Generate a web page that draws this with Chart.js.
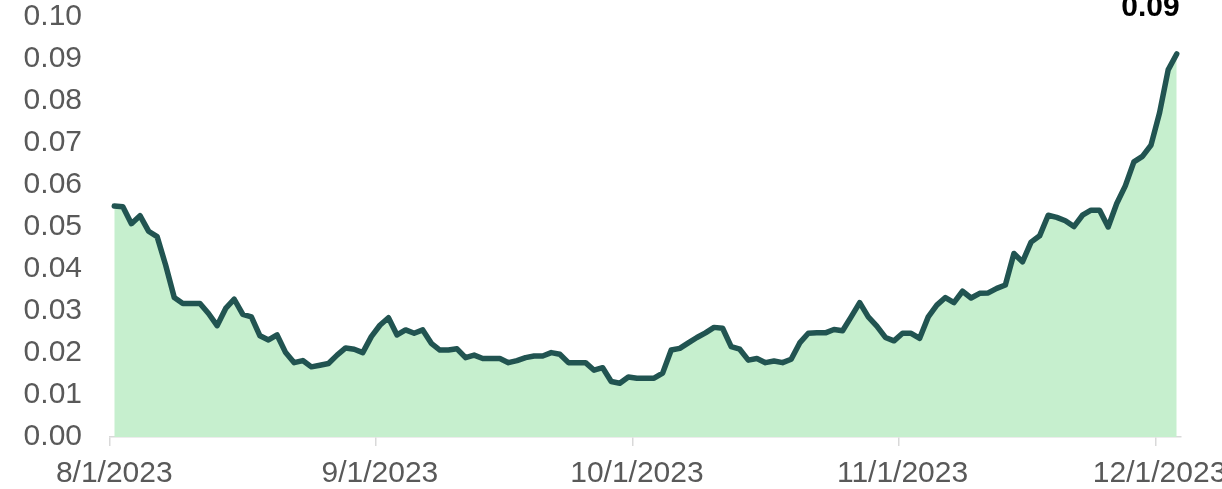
<!DOCTYPE html>
<html>
<head>
<meta charset="utf-8">
<script src="https://cdn.jsdelivr.net/npm/chart.js@4"></script>
<style>
  html, body { margin: 0; padding: 0; background: #fff; }
  #wrap { width: 1222px; height: 489px; }
</style>
</head>
<body>
<div id="wrap"><canvas id="myAreaChart" width="1222" height="489"></canvas></div>
<script>
// daily categories, 8/1/2023 .. 12/3/2023
const startDate = new Date(2023, 7, 1);
const dayCount = 125;
const dates = [];
for (let i = 0; i < dayCount; i++) {
  const d = new Date(startDate.getFullYear(), startDate.getMonth(), startDate.getDate() + i);
  dates.push(d.getMonth() + 1 + "/" + d.getDate() + "/" + d.getFullYear());
}

const values = [
  0.0550, 0.0548, 0.0508, 0.0527, 0.0490, 0.0477, 0.0409, 0.0332, 0.0318, 0.0318,
  0.0318, 0.0294, 0.0265, 0.0306, 0.0328, 0.0292, 0.0286, 0.0241, 0.0231, 0.0243,
  0.0201, 0.0177, 0.0182, 0.0167, 0.0171, 0.0175, 0.0195, 0.0212, 0.0209, 0.0201,
  0.0239, 0.0266, 0.0284, 0.0243, 0.0255, 0.0247, 0.0255, 0.0223, 0.0207, 0.0207,
  0.0210, 0.0189, 0.0195, 0.0187, 0.0187, 0.0187, 0.0177, 0.0182, 0.0189, 0.0193,
  0.0193, 0.0201, 0.0197, 0.0177, 0.0177, 0.0177, 0.0159, 0.0165, 0.0132, 0.0128,
  0.0143, 0.0140, 0.0140, 0.0140, 0.0152, 0.0207, 0.0211, 0.0224, 0.0237, 0.0248,
  0.0261, 0.0259, 0.0215, 0.0209, 0.0183, 0.0187, 0.0177, 0.0181, 0.0177, 0.0185,
  0.0224, 0.0247, 0.0248, 0.0248, 0.0256, 0.0253, 0.0286, 0.0320, 0.0286, 0.0264,
  0.0237, 0.0229, 0.0247, 0.0247, 0.0235, 0.0286, 0.0314, 0.0332, 0.0320, 0.0347,
  0.0331, 0.0342, 0.0343, 0.0354, 0.0362, 0.0437, 0.0417, 0.0464, 0.0479, 0.0528,
  0.0523, 0.0515, 0.0501, 0.0528, 0.0540, 0.0540, 0.0500, 0.0556, 0.0598, 0.0655,
  0.0668, 0.0695, 0.0772, 0.0874, 0.0912,
];

const yTicks = { min: 0, max: 0.1, step: 0.01 };

const isMonthStart = (i) => i < dates.length && dates[i].split("/")[1] === "1";

// value label over the last point
const lastValueLabel = {
  id: "lastValueLabel",
  afterDatasetsDraw(chart) {
    const meta = chart.getDatasetMeta(0);
    const pt = meta.data[meta.data.length - 1];
    const ctx = chart.ctx;
    ctx.save();
    ctx.font = "bold 30px 'Liberation Sans', Arial, sans-serif";
    ctx.fillStyle = "#000000";
    ctx.textAlign = "right";
    ctx.textBaseline = "alphabetic";
    ctx.fillText(values[values.length - 1].toFixed(2), pt.x + 3, pt.y - 38);
    ctx.restore();
  },
};

const areaChart = document.getElementById("myAreaChart").getContext("2d");
const myAreaChart = new Chart(areaChart, {
  type: "line",
  data: {
    labels: dates,
    datasets: [
      {
        data: values,
        fill: "origin",
        backgroundColor: "#C6EFCE",
        borderColor: "#215451",
        borderWidth: 5.5,
        borderJoinStyle: "round",
        borderCapStyle: "round",
        tension: 0,
        pointRadius: 0,
      },
    ],
  },
  plugins: [lastValueLabel],
  options: {
    responsive: false,
    animation: false,
    devicePixelRatio: 1,
    layout: {
      padding: { top: 17, right: 41, bottom: 0, left: 0 },
    },
    scales: {
      x: {
        type: "category",
        offset: true,
        grid: {
          offset: true,
          drawOnChartArea: false,
          tickLength: 9,
          lineWidth: 1.5,
          color: (ctx) => (isMonthStart(ctx.index) ? "#D9D9D9" : "rgba(0,0,0,0)"),
        },
        border: { display: true, color: "#D9D9D9", width: 1.5 },
        ticks: {
          autoSkip: false,
          maxRotation: 0,
          minRotation: 0,
          padding: 10,
          color: "#595959",
          font: { family: "'Liberation Sans', Arial, sans-serif", size: 30 },
          callback: (val, i) => (isMonthStart(i) ? dates[i] : ""),
        },
        afterFit: (scale) => {
          scale.height = 52;
          scale.paddingLeft = 0;
          scale.paddingRight = 0;
        },
      },
      y: {
        min: yTicks.min,
        max: yTicks.max,
        grid: { display: false, drawTicks: false },
        border: { display: false },
        ticks: {
          stepSize: yTicks.step,
          padding: 28,
          color: "#595959",
          font: { family: "'Liberation Sans', Arial, sans-serif", size: 30 },
          callback: (v) => v.toFixed(2),
        },
        afterFit: (scale) => {
          scale.width = 110;
          scale.paddingTop = 0;
          scale.paddingBottom = 0;
        },
      },
    },
    plugins: {
      legend: { display: false },
      tooltip: { enabled: false },
    },
  },
});
</script>
</body>
</html>
